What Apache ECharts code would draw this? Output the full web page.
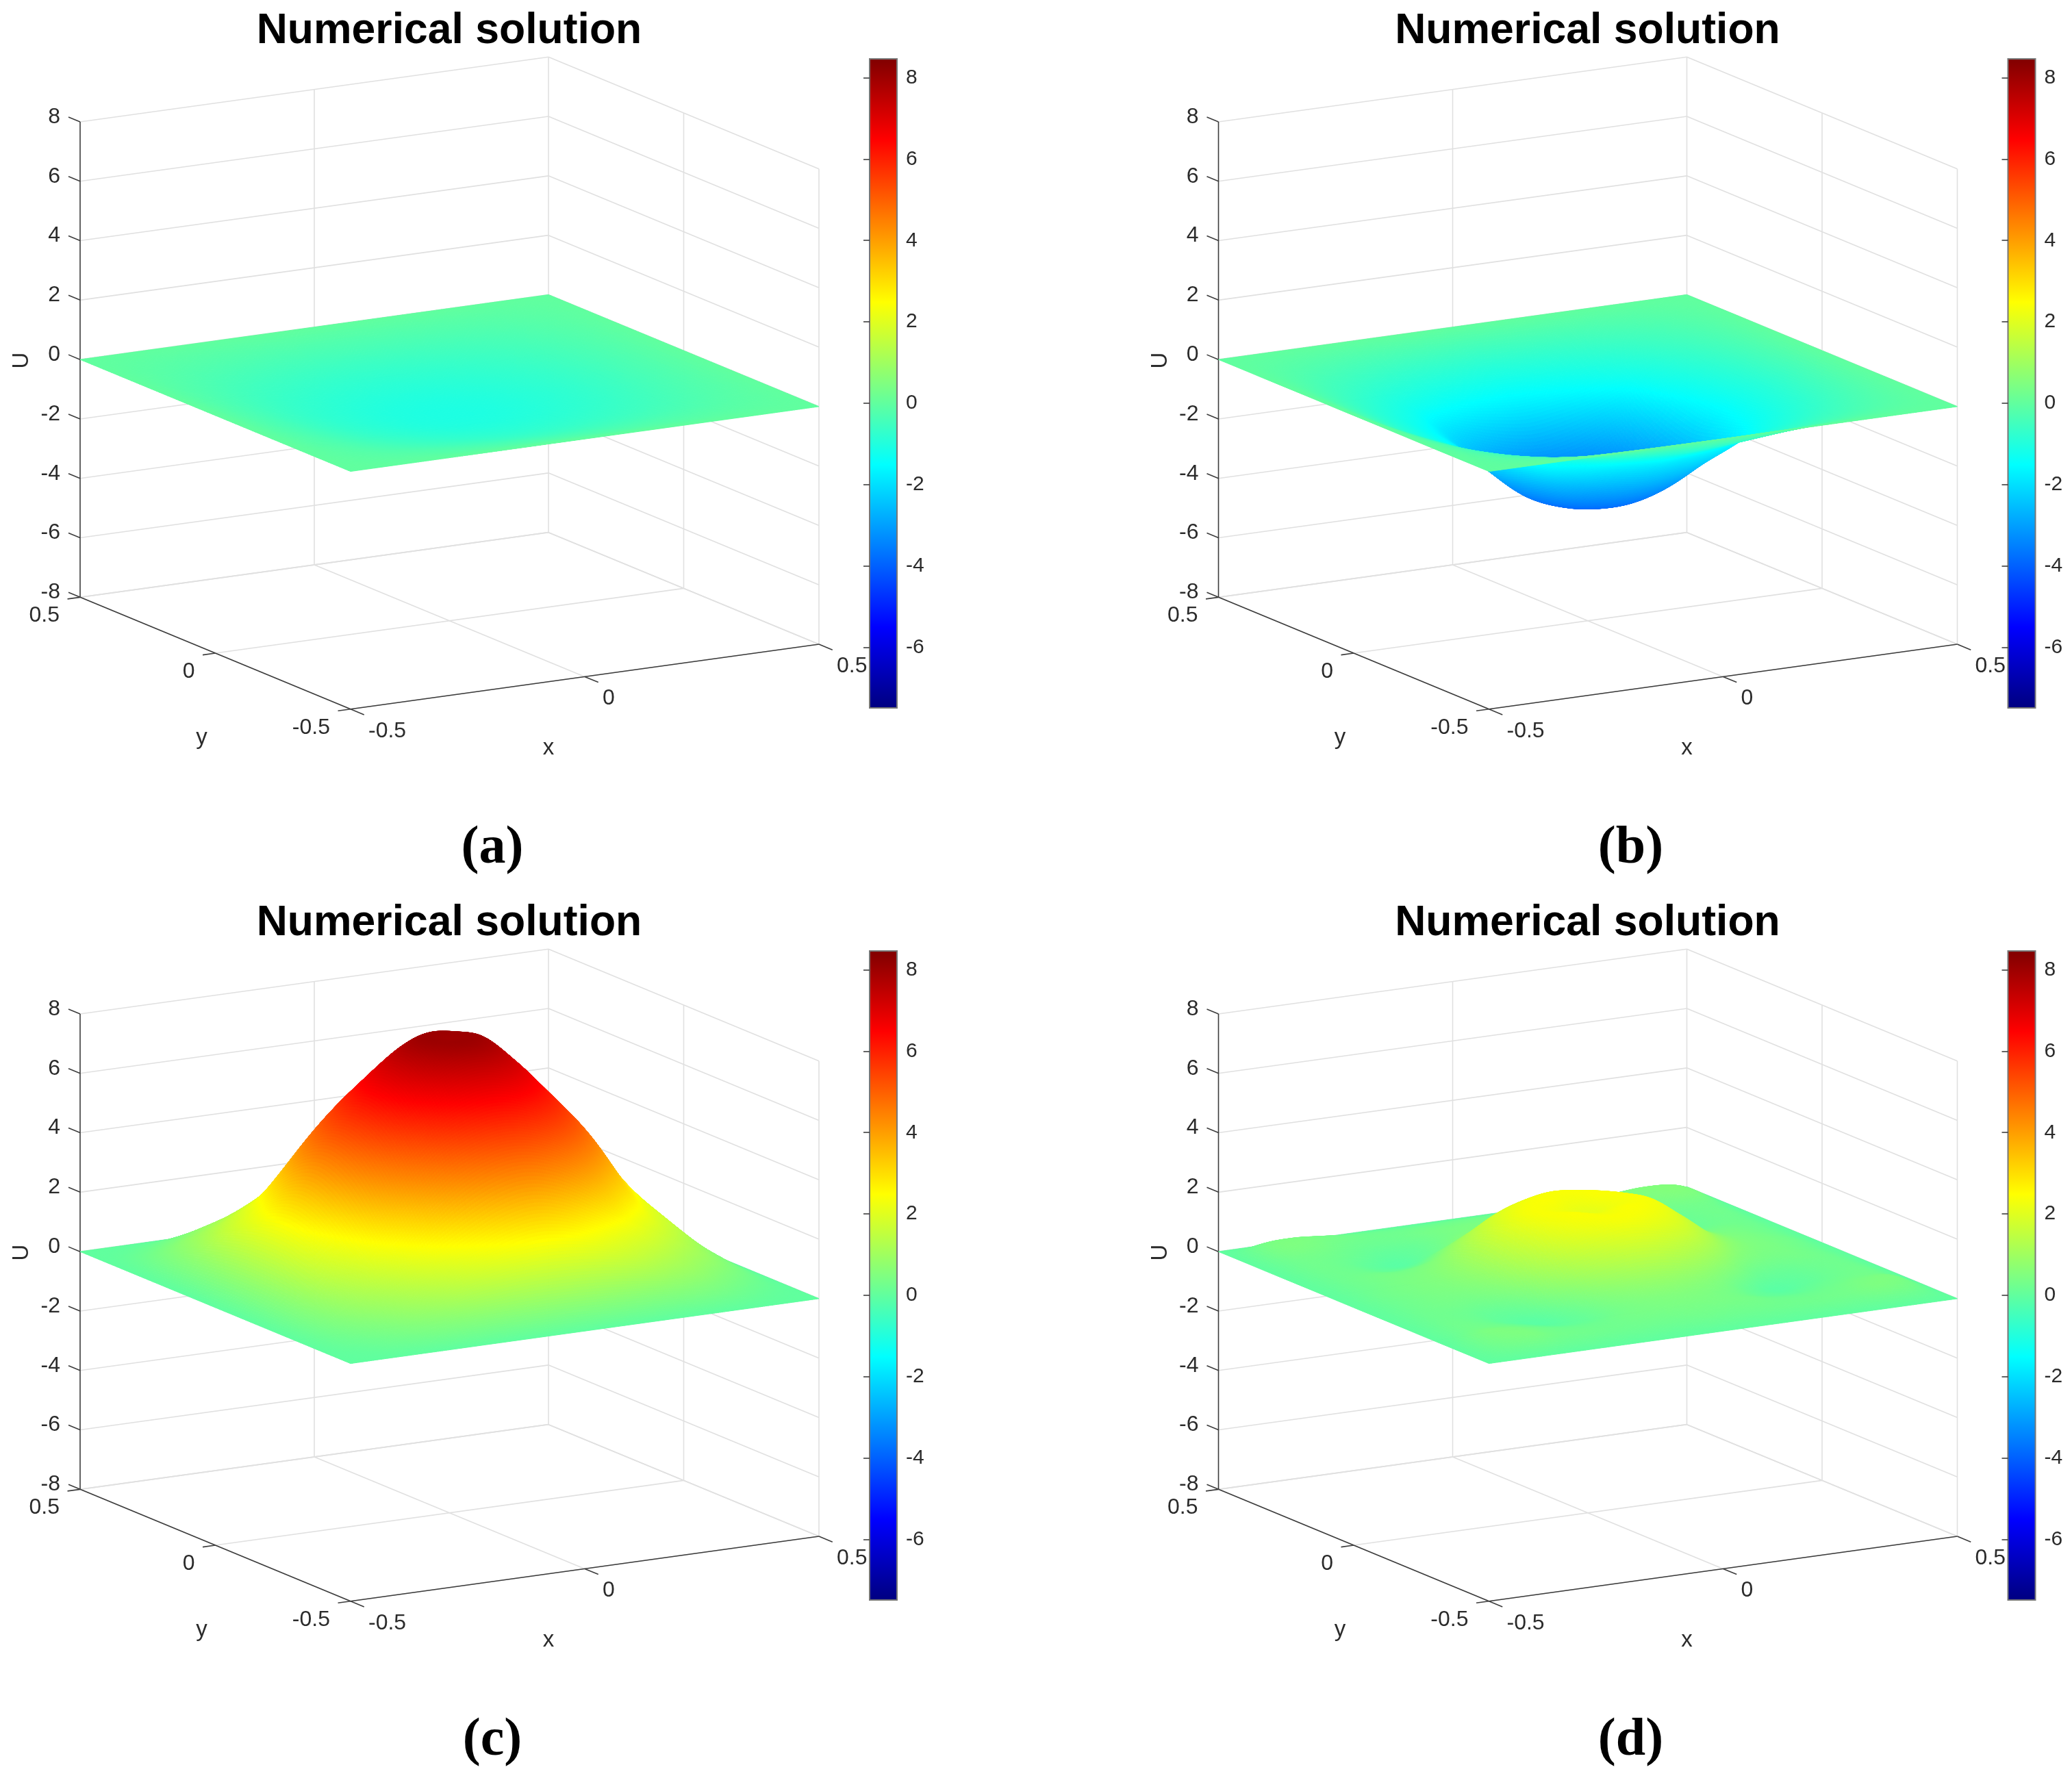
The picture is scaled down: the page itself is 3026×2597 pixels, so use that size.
<!DOCTYPE html>
<html><head><meta charset="utf-8">
<style>html,body{margin:0;padding:0;background:#fff}#c{width:3026px;height:2597px}</style>
<script src="https://cdn.jsdelivr.net/npm/echarts@6/dist/echarts.min.js"></script>
</head><body><div id="c"></div>
<script>
// ---------- data (rows: y=-0.5..0.5, columns: x=-0.5..0.5, step 1/16) ----------
const gridStep = 1 / 16;
const xTicks = [-0.5, 0, 0.5];
const yTicks = [-0.5, 0, 0.5];
const zTicks = [-8, -6, -4, -2, 0, 2, 4, 6, 8];
const colorbarTicks = [-6, -4, -2, 0, 2, 4, 6, 8];
const colorMin = -7.48, colorMax = 8.46;
const titleText = 'Numerical solution';
const panelCaptions = ['(a)', '(b)', '(c)', '(d)'];

const surfaceA = [
[0,0,0,0,0,0,0,0,0,0,0,0,0,0,0,0,0],
[0,-.04,-.08,-.11,-.15,-.17,-.19,-.2,-.2,-.2,-.19,-.17,-.15,-.11,-.08,-.04,0],
[0,-.08,-.15,-.22,-.28,-.33,-.37,-.39,-.4,-.39,-.37,-.33,-.28,-.22,-.15,-.08,0],
[0,-.11,-.22,-.33,-.42,-.49,-.54,-.58,-.59,-.58,-.54,-.49,-.42,-.33,-.22,-.11,0],
[0,-.15,-.28,-.42,-.53,-.62,-.69,-.73,-.75,-.73,-.69,-.62,-.53,-.42,-.28,-.15,0],
[0,-.17,-.33,-.49,-.62,-.72,-.8,-.85,-.87,-.85,-.8,-.72,-.62,-.49,-.33,-.17,0],
[0,-.19,-.37,-.54,-.69,-.8,-.89,-.95,-.97,-.95,-.89,-.8,-.69,-.54,-.37,-.19,0],
[0,-.2,-.39,-.58,-.73,-.85,-.95,-1.01,-1.03,-1.01,-.95,-.85,-.73,-.58,-.39,-.2,0],
[0,-.2,-.4,-.59,-.75,-.87,-.97,-1.03,-1.05,-1.03,-.97,-.87,-.75,-.59,-.4,-.2,0],
[0,-.2,-.39,-.58,-.73,-.85,-.95,-1.01,-1.03,-1.01,-.95,-.85,-.73,-.58,-.39,-.2,0],
[0,-.19,-.37,-.54,-.69,-.8,-.89,-.95,-.97,-.95,-.89,-.8,-.69,-.54,-.37,-.19,0],
[0,-.17,-.33,-.49,-.62,-.72,-.8,-.85,-.87,-.85,-.8,-.72,-.62,-.49,-.33,-.17,0],
[0,-.15,-.28,-.42,-.53,-.62,-.69,-.73,-.75,-.73,-.69,-.62,-.53,-.42,-.28,-.15,0],
[0,-.11,-.22,-.33,-.42,-.49,-.54,-.58,-.59,-.58,-.54,-.49,-.42,-.33,-.22,-.11,0],
[0,-.08,-.15,-.22,-.28,-.33,-.37,-.39,-.4,-.39,-.37,-.33,-.28,-.22,-.15,-.08,0],
[0,-.04,-.08,-.11,-.15,-.17,-.19,-.2,-.2,-.2,-.19,-.17,-.15,-.11,-.08,-.04,0],
[0,0,0,0,0,0,0,0,0,0,0,0,0,0,0,0,0]];

const surfaceB = [
[0,0,0,0,0,0,0,0,0,0,0,0,0,0,0,0,0],
[0,-.06,-.13,-.2,-.27,-.33,-.38,-.42,-.45,-.42,-.38,-.33,-.27,-.2,-.13,-.06,0],
[0,-.13,-.28,-.42,-.55,-.68,-.78,-.85,-.9,-.85,-.78,-.68,-.55,-.42,-.28,-.13,0],
[0,-.2,-.42,-.62,-.82,-1,-1.15,-1.25,-1.3,-1.25,-1.15,-1,-.82,-.62,-.42,-.2,0],
[0,-.27,-.55,-.82,-1.1,-1.35,-1.6,-1.75,-1.85,-1.75,-1.6,-1.35,-1.1,-.82,-.55,-.27,0],
[0,-.33,-.68,-1,-1.35,-1.95,-2.35,-2.65,-2.8,-2.65,-2.35,-1.95,-1.35,-1,-.68,-.33,0],
[0,-.38,-.78,-1.15,-1.6,-2.35,-3.05,-3.45,-3.6,-3.45,-3.05,-2.35,-1.6,-1.15,-.78,-.38,0],
[0,-.42,-.85,-1.25,-1.75,-2.65,-3.45,-3.85,-3.95,-3.85,-3.45,-2.65,-1.75,-1.25,-.85,-.42,0],
[0,-.45,-.9,-1.3,-1.85,-2.8,-3.6,-3.95,-4,-3.95,-3.6,-2.8,-1.85,-1.3,-.9,-.45,0],
[0,-.42,-.85,-1.25,-1.75,-2.65,-3.45,-3.85,-3.95,-3.85,-3.45,-2.65,-1.75,-1.25,-.85,-.42,0],
[0,-.38,-.78,-1.15,-1.6,-2.35,-3.05,-3.45,-3.6,-3.45,-3.05,-2.35,-1.6,-1.15,-.78,-.38,0],
[0,-.33,-.68,-1,-1.35,-1.95,-2.35,-2.65,-2.8,-2.65,-2.35,-1.95,-1.35,-1,-.68,-.33,0],
[0,-.27,-.55,-.82,-1.1,-1.35,-1.6,-1.75,-1.85,-1.75,-1.6,-1.35,-1.1,-.82,-.55,-.27,0],
[0,-.2,-.42,-.62,-.82,-1,-1.15,-1.25,-1.3,-1.25,-1.15,-1,-.82,-.62,-.42,-.2,0],
[0,-.13,-.28,-.42,-.55,-.68,-.78,-.85,-.9,-.85,-.78,-.68,-.55,-.42,-.28,-.13,0],
[0,-.06,-.13,-.2,-.27,-.33,-.38,-.42,-.45,-.42,-.38,-.33,-.27,-.2,-.13,-.06,0],
[0,0,0,0,0,0,0,0,0,0,0,0,0,0,0,0,0]];

const surfaceC = [
[0,0,0,0,0,0,0,0,0,0,0,0,0,0,0,0,0],
[0,.07,.22,.4,.55,.65,.72,.78,.8,.78,.72,.65,.55,.4,.22,.07,0],
[0,.22,.5,.85,1.15,1.5,1.75,1.9,1.95,1.9,1.75,1.5,1.15,.85,.5,.22,0],
[0,.4,.85,1.25,1.75,2.2,2.7,3.15,3.35,3.15,2.7,2.2,1.75,1.25,.85,.4,0],
[0,.55,1.15,1.75,2.4,3.35,4.15,4.65,4.85,4.65,4.15,3.35,2.4,1.75,1.15,.55,0],
[0,.65,1.5,2.2,3.35,4.45,5.3,5.8,6,5.8,5.3,4.45,3.35,2.2,1.5,.65,0],
[0,.72,1.75,2.7,4.15,5.3,6.2,6.85,7.1,6.85,6.2,5.3,4.15,2.7,1.75,.72,0],
[0,.78,1.9,3.15,4.65,5.8,6.85,7.65,7.95,7.65,6.85,5.8,4.65,3.15,1.9,.78,0],
[0,.8,1.95,3.35,4.85,6,7.1,7.95,7.95,7.95,7.1,6,4.85,3.35,1.95,.8,0],
[0,.78,1.9,3.15,4.65,5.8,6.85,7.65,7.95,7.65,6.85,5.8,4.65,3.15,1.9,.78,0],
[0,.72,1.75,2.7,4.15,5.3,6.2,6.85,7.1,6.85,6.2,5.3,4.15,2.7,1.75,.72,0],
[0,.65,1.5,2.2,3.35,4.45,5.3,5.8,6,5.8,5.3,4.45,3.35,2.2,1.5,.65,0],
[0,.55,1.15,1.75,2.4,3.35,4.15,4.65,4.85,4.65,4.15,3.35,2.4,1.75,1.15,.55,0],
[0,.4,.85,1.25,1.75,2.2,2.7,3.15,3.35,3.15,2.7,2.2,1.75,1.25,.85,.4,0],
[0,.22,.5,.85,1.15,1.5,1.75,1.9,1.95,1.9,1.75,1.5,1.15,.85,.5,.22,0],
[0,.07,.22,.4,.55,.65,.72,.78,.8,.78,.72,.65,.55,.4,.22,.07,0],
[0,0,0,0,0,0,0,0,0,0,0,0,0,0,0,0,0]];

const surfaceD = [
[0,0,0,0,0,0,0,0,0,0,0,0,0,0,0,0,0],
[0,.3,.42,.28,.25,.22,.22,.22,.25,.22,.22,.22,.25,.28,.42,.3,0],
[0,.42,.42,.28,.2,.22,.33,.38,.4,.38,.33,.22,.2,.28,.42,.42,0],
[0,.28,.28,.15,.02,.1,.35,.5,.55,.5,.35,.1,.02,.15,.28,.28,0],
[0,.25,.2,.02,-.08,.2,.6,.85,.95,.85,.6,.2,-.08,.02,.2,.25,0],
[0,.22,.22,.1,.2,.7,1.2,1.55,1.7,1.55,1.2,.7,.2,.1,.22,.22,0],
[0,.22,.33,.35,.6,1.2,1.85,2.2,2.35,2.2,1.85,1.2,.6,.35,.33,.22,0],
[0,.22,.38,.5,.85,1.55,2.2,2.42,2.3,2.42,2.2,1.55,.85,.5,.38,.22,0],
[0,.25,.4,.55,.95,1.7,2.35,2.3,2.1,2.3,2.35,1.7,.95,.55,.4,.25,0],
[0,.22,.38,.5,.85,1.55,2.2,2.42,2.3,2.42,2.2,1.55,.85,.5,.38,.22,0],
[0,.22,.33,.35,.6,1.2,1.85,2.2,2.35,2.2,1.85,1.2,.6,.35,.33,.22,0],
[0,.22,.22,.1,.2,.7,1.2,1.55,1.7,1.55,1.2,.7,.2,.1,.22,.22,0],
[0,.25,.2,.02,-.08,.2,.6,.85,.95,.85,.6,.2,-.08,.02,.2,.25,0],
[0,.28,.28,.15,.02,.1,.35,.5,.55,.5,.35,.1,.02,.15,.28,.28,0],
[0,.42,.42,.28,.2,.22,.33,.38,.4,.38,.33,.24,.22,.32,.5,.5,0],
[0,.36,.42,.34,.24,.2,.2,.22,.24,.24,.26,.3,.34,.42,.5,.42,0],
[0,0,0,0,0,0,0,0,0,0,0,0,0,0,0,0,0]];

// ---------- layout and projection ----------
const surfaces = [surfaceA, surfaceB, surfaceC, surfaceD];
const panelOffsets = [[0, 0], [1662.5, 0], [0, 1303], [1662.5, 1303]];
const panelSub = [6, 10, 14, 10];
const FONT = '"Liberation Sans", Arial, sans-serif';
const INK = '#2b2b2b';
function project(x, y, z) { return [684 * x - 395 * y, 94.7 * x + 163.4 * y + 43.4 * z]; }

function clamp01(v) { return v < 0 ? 0 : v > 1 ? 1 : v; }
function jetRgb(t) {
  return [clamp01(1.5 - Math.abs(4 * t - 3)), clamp01(1.5 - Math.abs(4 * t - 2)), clamp01(1.5 - Math.abs(4 * t - 1))];
}
function jetCss(t) {
  const c = jetRgb(t);
  return 'rgb(' + Math.round(c[0] * 255) + ',' + Math.round(c[1] * 255) + ',' + Math.round(c[2] * 255) + ')';
}
const colorCache = {};
function colorOf(z) {
  const k = Math.round(clamp01((z - colorMin) / (colorMax - colorMin)) * 2048);
  return colorCache[k] || (colorCache[k] = jetCss(k / 2048));
}
// display smoothing of the read grid, the way interpolated shading draws a mesh
function cr(p0, p1, p2, p3, t) {
  return p1 + 0.5 * t * (p2 - p0 + t * (2 * p0 - 5 * p1 + 4 * p2 - p3 + t * (3 * (p1 - p2) + p3 - p0)));
}
function sampleSurface(grid, fi, fj) {
  const n = grid.length - 1;
  const i = Math.min(Math.floor(fi), n - 1), j = Math.min(Math.floor(fj), n - 1);
  const ti = fi - i, tj = fj - j;
  const at = (a, b) => grid[Math.max(0, Math.min(n, b))][Math.max(0, Math.min(n, a))];
  const col = [];
  for (let b = -1; b <= 2; b++) col.push(cr(at(i - 1, j + b), at(i, j + b), at(i + 1, j + b), at(i + 2, j + b), ti));
  return cr(col[0], col[1], col[2], col[3], tj);
}

function surfaceSeries(p) {
  const SUB = panelSub[p];
  const grid = surfaces[p], n = grid.length - 1, cells = [];
  for (let j = n - 1; j >= 0; j--) for (let i = n - 1; i >= 0; i--) cells.push([i, j]);
  const M = n * SUB + 1, fine = [];
  for (let b = 0; b < M; b++) {
    const row = new Float64Array(M);
    for (let a = 0; a < M; a++) row[a] = sampleSurface(grid, a / SUB, b / SUB);
    fine.push(row);
  }
  const vx = k => -0.5 + k * gridStep / SUB;
  return {
    type: 'custom', xAxisIndex: p * 2, yAxisIndex: p * 2, z: 3, silent: true, animation: false,
    progressive: 0, clip: false, data: cells, encode: { x: 0, y: 1 },
    renderItem(params, api) {
      const i = api.value(0), j = api.value(1), children = [];
      for (let b = (j + 1) * SUB - 1; b >= j * SUB; b--) {
        for (let a = (i + 1) * SUB - 1; a >= i * SUB; a--) {
          const z00 = fine[b][a], z10 = fine[b][a + 1], z01 = fine[b + 1][a], z11 = fine[b + 1][a + 1];
          const c = colorOf((z00 + z10 + z01 + z11) / 4);
          children.push({
            type: 'polygon', silent: true,
            shape: { points: [
              api.coord(project(vx(a), vx(b), z00)), api.coord(project(vx(a + 1), vx(b), z10)),
              api.coord(project(vx(a + 1), vx(b + 1), z11)), api.coord(project(vx(a), vx(b + 1), z01))] },
            style: { fill: c, stroke: c, lineWidth: 1 }
          });
        }
      }
      return { type: 'group', children };
    }
  };
}

function frameItems() {
  const items = [];
  const seg = (a, b, kind) => items.push({ kind, a, b });
  const txt = (a, dx, dy, text, align, size, rot) => items.push({ kind: 'text', a, dx, dy, text, align, size, rot });
  const zMin = zTicks[0], zMax = zTicks[zTicks.length - 1];
  // walls and floor grid
  zTicks.forEach(z => {
    seg([-0.5, 0.5, z], [0.5, 0.5, z], 'grid');
    seg([0.5, 0.5, z], [0.5, -0.5, z], 'grid');
  });
  xTicks.forEach(x => {
    if (x > -0.5) seg([x, 0.5, zMin], [x, 0.5, zMax], 'grid');
    seg([x, -0.5, zMin], [x, 0.5, zMin], 'grid');
  });
  yTicks.forEach(y => {
    if (y < 0.5) seg([0.5, y, zMin], [0.5, y, zMax], 'grid');
    seg([-0.5, y, zMin], [0.5, y, zMin], 'grid');
  });
  // axes
  seg([-0.5, 0.5, zMin], [-0.5, 0.5, zMax], 'axis');
  seg([-0.5, -0.5, zMin], [-0.5, 0.5, zMin], 'axis');
  seg([-0.5, -0.5, zMin], [0.5, -0.5, zMin], 'axis');
  zTicks.forEach(z => {
    seg([-0.5, 0.5, z], [-0.5, 0.543, z], 'tick');
    txt([-0.5, 0.5, z], -29, -7, String(z), 'right', 32);
  });
  xTicks.forEach(x => {
    seg([x, -0.5, zMin], [x, -0.55, zMin], 'tick');
    txt([x, -0.5, zMin], 26, 32, String(x), 'left', 32);
  });
  yTicks.forEach(y => {
    seg([-0.5, y, zMin], [-0.527, y, zMin], 'tick');
    txt([-0.5, y, zMin], -30, 27, String(y), 'right', 32);
  });
  txt([0, -0.5, zMin], -53, 105, 'x', 'center', 33);
  txt([-0.5, 0, zMin], -20, 124, 'y', 'center', 33);
  txt([-0.5, 0.5, 0], -85, 1.5, 'U', 'center', 33, Math.PI / 2);
  return items;
}

function frameSeries(p) {
  const items = frameItems();
  return {
    type: 'custom', xAxisIndex: p * 2, yAxisIndex: p * 2, z: 2, silent: true, animation: false, clip: false,
    progressive: 0, data: items.map((_, k) => [k, 0]), encode: { x: 0, y: 1 },
    renderItem(params, api) {
      const it = items[api.value(0)];
      if (it.kind === 'text') {
        const q = api.coord(project(it.a[0], it.a[1], it.a[2]));
        return {
          type: 'text', x: q[0] + it.dx, y: q[1] + it.dy, rotation: it.rot || 0, silent: true,
          style: { text: it.text, x: 0, y: 0, fill: INK, font: it.size + 'px ' + FONT, textAlign: it.align, textVerticalAlign: 'middle' }
        };
      }
      const a = api.coord(project(it.a[0], it.a[1], it.a[2])), b = api.coord(project(it.b[0], it.b[1], it.b[2]));
      const axisLike = it.kind !== 'grid';
      return {
        type: 'line', silent: true,
        shape: { x1: a[0], y1: a[1], x2: b[0], y2: b[1] },
        style: { stroke: axisLike ? '#3c3c3c' : '#e0e0e0', lineWidth: axisLike ? 1.6 : 1.6 }
      };
    }
  };
}

function colorbarSeries(p) {
  const stops = [];
  for (let s = 0; s <= 64; s++) stops.push({ offset: s / 64, color: jetCss(1 - s / 64) });
  return {
    type: 'custom', xAxisIndex: p * 2 + 1, yAxisIndex: p * 2 + 1, z: 2, silent: true, animation: false, clip: false,
    data: [[0, colorMin, 1, colorMax]], encode: { x: [0, 2], y: [1, 3] },
    renderItem(params, api) {
      const a = api.coord([api.value(0), api.value(1)]), b = api.coord([api.value(2), api.value(3)]);
      return {
        type: 'rect', silent: true,
        shape: { x: a[0], y: b[1], width: b[0] - a[0], height: a[1] - b[1] },
        style: { fill: new echarts.graphic.LinearGradient(0, 0, 0, 1, stops), stroke: '#777777', lineWidth: 2 }
      };
    }
  };
}

const grid = [], xAxis = [], yAxis = [], series = [], title = [];
panelOffsets.forEach((o, p) => {
  grid.push({ left: o[0], top: o[1], width: 1360, height: 1290, show: false });
  xAxis.push({ type: 'value', gridIndex: p * 2, show: false, min: -656.5, max: 703.5 });
  yAxis.push({ type: 'value', gridIndex: p * 2, show: false, min: -730.5, max: 559.5 });
  grid.push({ left: o[0] + 1270, top: o[1] + 86, width: 40, height: 948, show: false });
  xAxis.push({ type: 'value', gridIndex: p * 2 + 1, show: false, min: 0, max: 1 });
  yAxis.push({
    type: 'value', gridIndex: p * 2 + 1, position: 'right', min: colorMin, max: colorMax, z: 6,
    splitLine: { show: false }, axisLine: { show: false },
    axisTick: { show: true, inside: true, length: 9, customValues: colorbarTicks, lineStyle: { color: '#333', width: 1.5 } },
    axisLabel: { show: true, margin: 13, customValues: colorbarTicks, color: INK, fontSize: 30, fontFamily: FONT, formatter: v => String(v) }
  });
  series.push(frameSeries(p), surfaceSeries(p), colorbarSeries(p));
  title.push({
    text: titleText, left: o[0] + 651, top: o[1] + 9, textAlign: 'center',
    textStyle: { fontFamily: FONT, fontWeight: 'bold', fontSize: 62.5, color: '#000' }
  });
  title.push({
    text: panelCaptions[p], left: o[0] + 714, top: o[1] + 1196, textAlign: 'center',
    textStyle: { fontFamily: '"Liberation Serif", serif', fontWeight: 'bold', fontSize: 78, color: '#000' }
  });
});

const chart = echarts.init(document.getElementById('c'), null, { renderer: 'canvas' });
chart.setOption({ animation: false, backgroundColor: '#fff', tooltip: { show: false }, title, grid, xAxis, yAxis, series });
</script></body></html>
